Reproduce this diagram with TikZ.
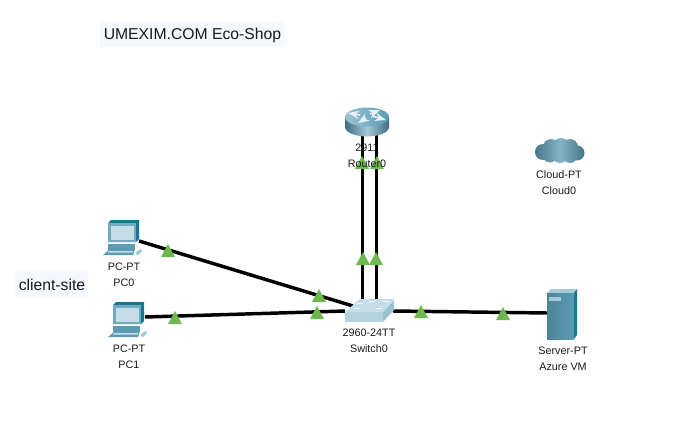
\documentclass[tikz,border=0pt]{standalone}
\usepackage{fontspec}
\setmainfont{Liberation Sans}
\usepackage{tikz}
\usetikzlibrary{positioning, arrows.meta, calc}

\definecolor{linkgreen}{HTML}{6DB950}
\definecolor{devdark}{HTML}{16788C}
\definecolor{devmid}{HTML}{5B9BB4}
\definecolor{devlight}{HTML}{C4DDE6}
\definecolor{titlebg}{HTML}{F5F8FD}

\tikzset{
	link/.style={line width=2.6pt, black},
	port/.style={inner sep=0pt, outer sep=0pt, minimum height=14pt},
	devlabel/.style={align=center, font=\fontsize{8.1}{12}\selectfont, text=black!90},
	notelabel/.style={font=\fontsize{11.8}{14}\selectfont, text=black!90, inner sep=0pt},
	pcicon/.pic={
		% Monitor
		\fill[devdark] (0,3) -- (3,0) -- (31,0) -- (31,19) -- (28,22) -- (0,22) -- cycle;
		\fill[devmid!85!white] (0,3) rectangle (28,22);
		\fill[devlight] (2.5,5.5) rectangle (25.5,20);
		% Base e tastiera
		\fill[devmid] (0,24) rectangle (27,30);
		\fill[devmid] (-5,35) -- (2,29) -- (27,29) -- (25,35) -- cycle;
		\fill[devlight] (1,31) -- (25,31) -- (24.5,32.5) -- (0,32.5) -- cycle;
		\fill[devlight!70!devmid] (29,31) -- (33,29) -- (34,31) -- (30,35) -- (27.5,34) -- cycle;
	}
}

\begin{document}
\begin{tikzpicture}[x=0.75pt, y=-0.75pt, >=Stealth]
	\useasboundingbox (0,0) rectangle (685,446);

	% Titolo e nota
	\fill[titlebg] (100,21) rectangle (285,47);
	\fill[titlebg] (15,271) rectangle (88,297);
	\node[notelabel] (title) at (192.5,35) {UMEXIM.COM Eco-Shop};
	\node[notelabel] (site) at (52,285) {client-site};

	% Nodi dei dispositivi
	\node[port, minimum width=24pt] (pc0) at (123,241) {};
	\node[port, minimum width=24pt] (pc1) at (129,317) {};
	\node[port, minimum width=36pt] (switch0) at (369,311) {};
	\node[port, minimum width=22pt] (server0) at (562,313) {};
	\coordinate (routerA) at (362.5,130);
	\coordinate (routerB) at (376.5,130);
	\coordinate (switchA) at (362.5,300);
	\coordinate (switchB) at (376.5,300);
	\coordinate (switchC) at (353,306);

	% Collegamenti
	\draw[link] (pc0.east) -- (switchC);
	\draw[link] (pc1.east) -- (switch0.west);
	\draw[link] (routerA) -- (switchA);
	\draw[link] (routerB) -- (switchB);
	\draw[link] (switch0.east) -- (server0.west);

	% Triangoli verdi
	\foreach \x/\y in {168/257, 319/302, 175/324, 317/319, 363/265, 376/265, 362/169, 377/169, 421/318, 503/320} {
		\fill[linkgreen] (\x-7,\y) -- (\x,\y-13) -- (\x+7,\y) -- cycle;
	}

	% Router
	\shade[left color=devmid!70!black, right color=devmid!70!black, middle color=devlight!70!devmid]
		(345,117) -- (345,127) arc[start angle=180, end angle=0, x radius=22, y radius=9.5] -- (389,117) -- cycle;
	\shade[left color=devlight!60!devmid, right color=devmid] (367,117) ellipse[x radius=22, y radius=9.5];
	\draw[->, white!85!devmid, line width=1.2pt] (360,115) -- (348,113);
	\draw[->, white!85!devmid, line width=1.2pt] (370,114) -- (380,110);
	\draw[->, white!85!devmid, line width=1.2pt] (366,118) -- (358,123);
	\draw[->, white!85!devmid, line width=1.2pt] (372,116) -- (386,120);

	% Switch
	\fill[devlight!85!devmid] (345,312) -- (383,312) -- (383,322) -- (345,322) -- cycle;
	\fill[devlight!60!devmid] (383,312) -- (394,300) -- (394,310) -- (383,322) -- cycle;
	\fill[devlight] (345,312) -- (360,299) -- (394,299) -- (383,312) -- cycle;
	\foreach \x/\y in {360/303, 372/301, 386/301, 357/308, 379/308} {
		\draw[white, line width=0.6pt] (\x-3,\y) -- (\x+3,\y);
	}

	% PC
	\pic at (108,220) {pcicon};
	\pic at (113,302) {pcicon};

	% Server
	\fill[devlight!70!devmid] (547,293) -- (551,289) -- (577,289) -- (574,293) -- cycle;
	\fill[devdark] (574,293) -- (577,289) -- (577,335) -- (574,339) -- cycle;
	\shade[left color=devmid!85!black, right color=devmid] (547,293) rectangle (574,339);
	\fill[devlight!70!devmid] (549,297) rectangle (561,301);

	% Nuvola
	\shade[left color=devmid!75!black, right color=devmid!75!black, middle color=devlight!40!devmid]
		(543,152) circle (8) (551,147) circle (8) (561,146) circle (8) (570,147) circle (8) (577,153) circle (7.5)
		(550,155) circle (7.5) (560,155) circle (8) (570,156) circle (7);

	% Etichette
	\node[devlabel] (router0) at (367,155.5) {2911\\Router0};
	\node[devlabel] (switch0label) at (369,340.5) {2960-24TT\\Switch0};
	\node[devlabel] (cloud0) at (559,182.5) {Cloud-PT\\Cloud0};
	\node[devlabel] (pc0label) at (124,274.5) {PC-PT\\PC0};
	\node[devlabel] (pc1label) at (129,356.5) {PC-PT\\PC1};
	\node[devlabel] (server0label) at (563,358.5) {Server-PT\\Azure VM};
\end{tikzpicture}
\end{document}
